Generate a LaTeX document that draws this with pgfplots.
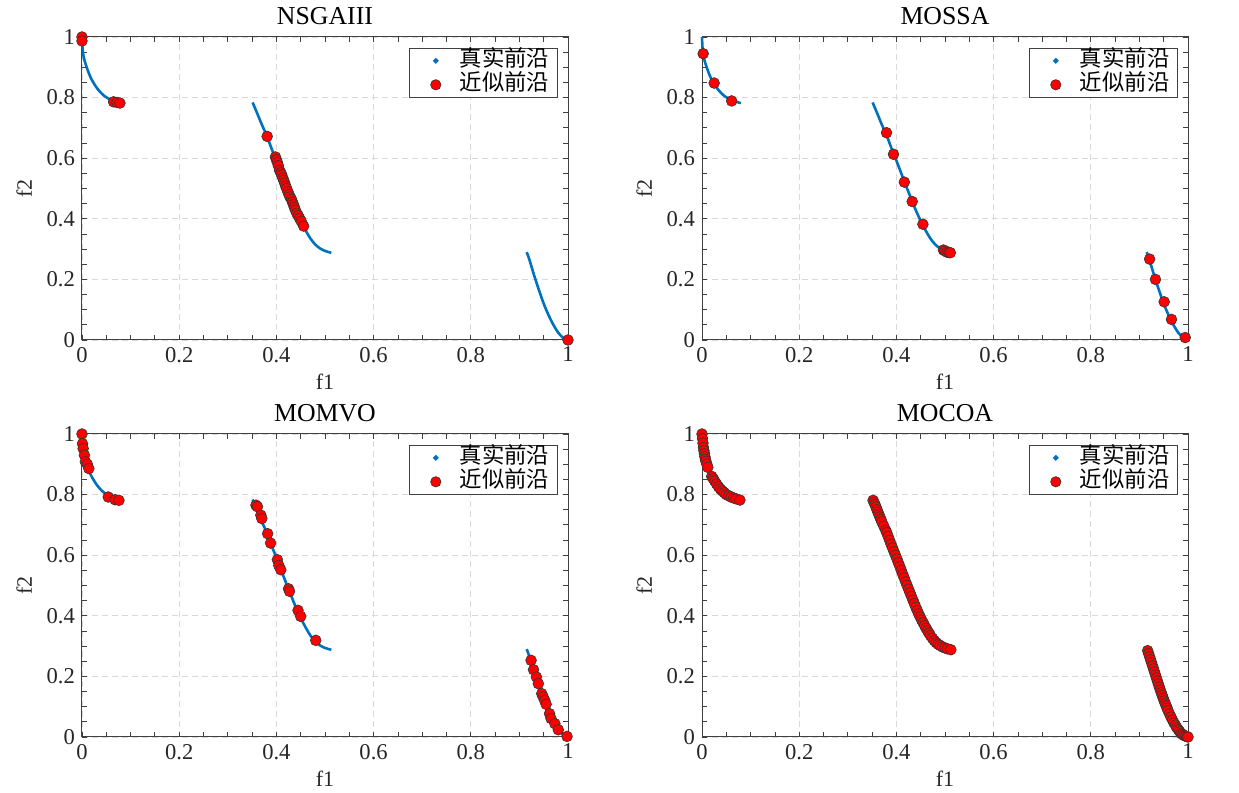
\documentclass[border=0pt]{standalone}
\usepackage{pgfplots}
\pgfplotsset{compat=1.18}
\usepackage{pgfplotstable}
\usepackage{fontspec}
\setmainfont{Liberation Serif}
\newfontfamily\cjk{Noto Sans CJK SC}
\definecolor{tfblue}{RGB}{0,114,189}

\pgfplotstableread{
x y
0 1
0.001 0.965
0.003 0.938
0.006 0.918
0.01 0.898
0.015 0.877
0.02 0.859
0.03 0.833
0.04 0.814
0.05 0.801
0.06 0.792
0.07 0.786
0.08 0.782
}\tfA
\pgfplotstableread{
x y
0.351 0.784
0.36 0.750
0.37 0.711
0.38 0.675
0.39 0.632
0.40 0.592
0.41 0.550
0.42 0.508
0.43 0.468
0.44 0.428
0.45 0.393
0.46 0.362
0.47 0.335
0.48 0.315
0.49 0.302
0.50 0.294
0.51 0.289
0.513 0.288
}\tfB
\pgfplotstableread{
x y
0.915 0.290
0.92 0.268
0.93 0.215
0.94 0.166
0.95 0.120
0.96 0.082
0.97 0.050
0.98 0.024
0.99 0.007
1.0 0.0
}\tfC

\pgfplotstableread{
x y
0 1.0
0 0.987
0.065 0.786
0.072 0.784
0.078 0.782
0.381 0.672
0.398 0.604
0.400 0.595
0.402 0.586
0.404 0.575
0.4065 0.560
0.409 0.552
0.411 0.545
0.413 0.535
0.415 0.527
0.417 0.518
0.419 0.508
0.421 0.500
0.4236 0.489
0.426 0.480
0.428 0.472
0.431 0.464
0.433 0.455
0.435 0.447
0.437 0.438
0.439 0.429
0.442 0.418
0.445 0.410
0.448 0.401
0.451 0.392
0.456 0.376
1.0 0.0
}\nsga

\pgfplotstableread{
x y
0.0024 0.945
0.025 0.848
0.061 0.789
0.3797 0.684
0.394 0.613
0.4163 0.521
0.4325 0.457
0.4545 0.382
0.4967 0.297
0.500 0.294
0.504 0.290
0.508 0.289
0.511 0.288
0.921 0.267
0.933 0.200
0.951 0.126
0.966 0.068
0.9943 0.008
}\mossa

\pgfplotstableread{
x y
0 1.0
0.001 0.968
0.0024 0.952
0.005 0.930
0.007 0.908
0.011 0.900
0.014 0.886
0.054 0.792
0.068 0.783
0.076 0.781
0.358 0.765
0.361 0.760
0.368 0.732
0.370 0.721
0.382 0.671
0.388 0.640
0.402 0.585
0.405 0.566
0.409 0.552
0.425 0.489
0.427 0.481
0.4445 0.418
0.450 0.398
0.481 0.319
0.924 0.253
0.929 0.222
0.935 0.198
0.939 0.176
0.946 0.143
0.949 0.132
0.952 0.121
0.955 0.108
0.962 0.077
0.965 0.061
0.973 0.044
0.980 0.024
0.998 0.002
}\momvo

\pgfplotstableread{
x y
0 1
0.001 0.985
0.002 0.97
0.003 0.955
0.004 0.945
0.005 0.935
0.006 0.925
0.007 0.917
0.008 0.91
0.01 0.90
0.012 0.89
0.02 0.86
0.023 0.853
0.026 0.845
0.03 0.835
0.034 0.826
0.038 0.818
0.042 0.812
0.046 0.806
0.05 0.80
0.055 0.796
0.06 0.792
0.065 0.789
0.07 0.786
0.078 0.782
0.352 0.781
0.354 0.774
0.356 0.767
0.358 0.759
0.360 0.750
0.362 0.742
0.364 0.734
0.366 0.726
0.368 0.718
0.370 0.710
0.374 0.696
0.378 0.682
0.380 0.675
0.383 0.662
0.386 0.649
0.389 0.636
0.392 0.624
0.395 0.612
0.398 0.600
0.401 0.588
0.404 0.575
0.407 0.563
0.410 0.550
0.413 0.537
0.416 0.525
0.419 0.512
0.422 0.500
0.425 0.488
0.428 0.476
0.431 0.464
0.434 0.452
0.437 0.440
0.440 0.428
0.443 0.417
0.446 0.406
0.449 0.396
0.452 0.386
0.455 0.377
0.458 0.368
0.461 0.359
0.464 0.351
0.467 0.343
0.470 0.335
0.474 0.326
0.478 0.318
0.482 0.311
0.486 0.306
0.490 0.302
0.495 0.297
0.500 0.294
0.505 0.291
0.512 0.288
0.917 0.285
0.919 0.275
0.921 0.265
0.923 0.255
0.925 0.245
0.927 0.235
0.929 0.225
0.931 0.215
0.933 0.205
0.935 0.195
0.937 0.185
0.939 0.175
0.941 0.165
0.943 0.155
0.945 0.146
0.947 0.137
0.949 0.128
0.951 0.119
0.953 0.111
0.955 0.103
0.957 0.095
0.959 0.087
0.962 0.076
0.965 0.066
0.968 0.056
0.971 0.047
0.974 0.039
0.977 0.031
0.980 0.024
0.983 0.018
0.986 0.012
0.989 0.008
0.992 0.005
0.995 0.003
0.998 0.001
1.0 0.0
}\mocoa

\pgfplotsset{
  myax/.style={
    width=243pt, height=151.5pt, scale only axis,
    xmin=0, xmax=1, ymin=0, ymax=1,
    xtick={0,0.2,0.4,0.6,0.8,1}, ytick={0,0.2,0.4,0.6,0.8,1},
    minor tick num=3,
    tick align=inside,
    major tick length=2.5pt, minor tick length=2.5pt,
    tick style={black!75, line width=0.4pt},
    axis line style={black!75, line width=0.5pt},
    grid=major,
    major grid style={dash pattern=on 3pt off 2pt, black!15, line width=0.4pt},
    /pgf/number format/assume math mode=true,
    ticklabel style={font=\fontsize{11.3}{13}\selectfont, black!85},
    label style={font=\fontsize{11}{13}\selectfont, black!85},
    title style={font=\fontsize{12.9}{14}\selectfont, yshift=-3.5pt},
    xlabel={f1}, ylabel={f2},
    xlabel style={yshift=1pt},
    ylabel style={yshift=0.5pt},
    clip=false,
    legend style={at={(0.979,0.964)}, anchor=north east, draw=black!75, fill=white,
      font=\cjk\fontsize{11.2}{13}\selectfont, cells={anchor=west},
      nodes={text height=8.3pt, text depth=2.2pt, inner ysep=0.5pt},
      row sep=0.5pt, inner xsep=2pt, inner ysep=0.5pt},
    legend cell align=left,
  },
  tf/.style={color=tfblue, line width=1.3pt, no markers, smooth},
  ap/.style={only marks, mark=*, mark size=2.7pt,
    mark options={fill=red, draw=black!80, line width=0.3pt},
    legend image code/.code={\path[draw=none] (0,0) -- (21pt,0);
      \path[draw=none] plot[mark=*, mark size=2.6pt, mark options={fill=red, draw=black!80, line width=0.3pt}] coordinates {(11pt,0pt)};}},
}
\newcommand{\truefront}{%
  \addplot[tf, legend image code/.code={\path[draw=none] (0,0) -- (21pt,0); \fill[tfblue] (11pt,0) circle (0.6pt);}] table {\tfA};
  \addlegendentry{真实前沿}
  \addplot[tf, forget plot] table {\tfB};
  \addplot[tf, forget plot] table {\tfC};
}

\begin{document}
\begin{tikzpicture}
\useasboundingbox (0,0) rectangle (619.5pt,396.5pt);
\begin{axis}[myax, at={(41pt,226.5pt)}, anchor=south west, title={NSGAIII}]
\truefront
\addplot[ap] table {\nsga};
\addlegendentry{近似前沿}
\end{axis}
\begin{axis}[myax, at={(351pt,226.5pt)}, anchor=south west, title={MOSSA}]
\truefront
\addplot[ap] table {\mossa};
\addlegendentry{近似前沿}
\end{axis}
\begin{axis}[myax, at={(41pt,28pt)}, anchor=south west, title={MOMVO}]
\truefront
\addplot[ap] table {\momvo};
\addlegendentry{近似前沿}
\end{axis}
\begin{axis}[myax, at={(351pt,28pt)}, anchor=south west, title={MOCOA}]
\truefront
\addplot[ap] table {\mocoa};
\addlegendentry{近似前沿}
\end{axis}
\end{tikzpicture}
\end{document}
